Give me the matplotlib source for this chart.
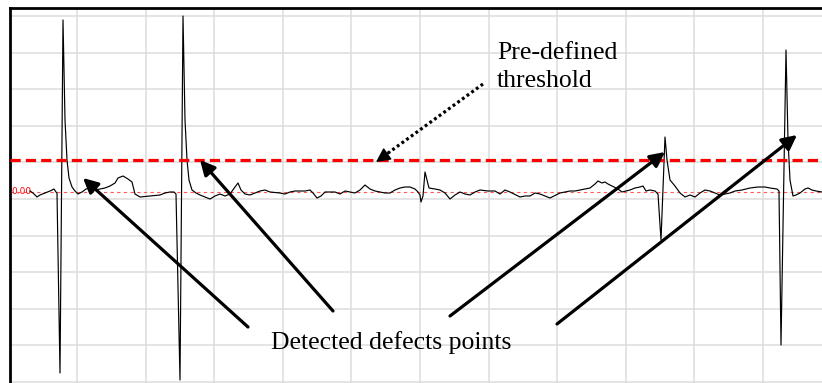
import matplotlib
matplotlib.use("Agg")
import matplotlib.pyplot as plt
import numpy as np

# Recorded trace: sample index and raw amplitude (ADC counts, zero = baseline)
samples = [
    20, 23, 27, 30, 35, 40, 44, 46, 47,
    50, 53, 55, 57, 59, 62, 65, 68,
    72, 76, 80, 85, 90, 95, 100, 105, 108, 113, 118, 122, 125, 130, 140, 150, 155, 160, 164,
    166, 170, 173, 175, 177, 179, 182, 186,
    190, 195, 200, 205, 210, 215, 220, 225, 228, 231, 235, 240, 245, 250, 255, 260,
    270, 275, 280, 285, 295, 300, 303, 307, 311, 315, 320, 325, 330, 335, 340, 345,
    350, 355, 360, 365, 370, 375, 380, 385, 390, 395, 400, 405, 408, 410, 411, 413,
    415, 417, 419, 425, 430, 435, 440, 445, 450, 455, 460, 465, 470, 478, 485, 490,
    495, 500, 506, 510, 515, 520, 525, 530, 535, 540, 546, 550, 555, 560, 565, 570,
    575, 580, 585, 588, 592, 595, 598, 602, 608, 612, 620, 625, 630, 633, 636, 640,
    645, 648, 651, 655, 657, 660, 665, 670, 675, 680, 685, 690, 695, 700, 705, 710,
    715, 720, 725, 732, 740, 748, 755, 760, 767, 769, 771, 776, 778, 780, 783, 786,
    790, 795, 798, 802, 806, 812,
]
amplitude = [
    1, -1, -5, -3, -1, 1, 3, 0, -1,
    -181, 172, 72, 32, 14, 5, 1, -2,
    0, 3, 4, 2, 3, 4, 6, 9, 14, 16, 13, 10, -2, -5, -4, -3, -1, 0, 0,
    -2, -188, 176, 72, 32, 12, 2, -1,
    -3, -5, -7, -4, -2, -4, -2, 5, 9, 2, -2, -3, -1, 1, 2, 0,
    -1, -2, 0, 1, 1, 2, -1, -6, -4, 0, 0, 0, -2, 1, 0, -1,
    2, 7, 3, 1, 0, -1, -1, 2, 4, 5, 5, 3, 0, -3, -10, -4,
    20, 12, 4, 3, 2, -1, -7, -3, 0, -2, -3, 0, 2, 1, 1, -2,
    2, 0, -3, -5, -4, -4, -1, -2, -4, -6, -3, -1, 0, 1, 1, 2,
    3, 4, 8, 11, 9, 10, 8, 6, 3, 0, 2, 4, 5, 6, 1, 2,
    1, -2, -48, 55, 32, 12, 6, -1, -5, -3, -5, -1, 2, 1, -1, -3,
    -2, -1, 1, 2, 4, 5, 5, 4, 3, 1, -153, 142, 52, 12, -4, -3,
    -1, 3, 4, 2, 1, 0,
]
threshold = 32

# (tip, tail) of the arrows pointing at the threshold crossings
defect_tips = [(73, 14), (190, 32), (655, 40), (787, 57)]
defect_tails = [(238, -135), (323, -119), (440, -124), (547, -132)]

fig = plt.figure(figsize=(8.22, 3.83), dpi=100)
ax = fig.add_axes([10 / 822, 0, 812 / 822, 375 / 383])

# scope graticule
for gx in 67 + 68.6 * np.arange(11):
    ax.axvline(gx, color="#dcdcdc", lw=1.1, zorder=0)
for gy in -190 + 36.6 * np.arange(11):
    ax.axhline(gy, color="#dcdcdc", lw=1.1, zorder=0)

ax.axhline(0, color="#ff5a5a", lw=0.8, ls=(0, (3, 3)), zorder=1)
ax.text(1, 0, "0.00", color="red", fontsize=6.5, va="center", ha="left", zorder=1)

ax.plot(samples, amplitude, color="black", lw=0.85, zorder=2)
ax.axhline(threshold, color="#ff0000", lw=2.3, ls=(0, (3.2, 1.6)), zorder=3)

ax.set_xlim(0, 812)
ax.set_ylim(-191, 184)
ax.set_xticks([])
ax.set_yticks([])
for side in ("right", "bottom"):
    ax.spines[side].set_visible(False)
for side in ("top", "left"):
    ax.spines[side].set_linewidth(2.0)
    ax.spines[side].set_color("black")

serif = "Liberation Serif"
for tip, tail in zip(defect_tips, defect_tails):
    ax.annotate("", xy=tip, xytext=tail,
                arrowprops=dict(arrowstyle="-|>", color="black", lw=2.3,
                                mutation_scale=22, shrinkA=0, shrinkB=0),
                zorder=4)

# dotted shaft, then a short solid arrow for the head
ax.plot([473, 374], [108, 36], color="black", lw=2.3, ls=(0, (0.9, 0.9)), zorder=4)
ax.annotate("", xy=(366, 30), xytext=(380, 40),
            arrowprops=dict(arrowstyle="-|>", color="black", lw=1.0,
                            mutation_scale=22, shrinkA=0, shrinkB=0),
            zorder=4)

ax.text(487, 125, "Pre-defined\nthreshold", family=serif, fontsize=18.5,
        ha="left", va="center", linespacing=1.32, zorder=5)
ax.text(381, -151, "Detected defects points", family=serif, fontsize=18.5,
        ha="center", va="center", zorder=5)

fig.savefig("out.png", dpi=100)
